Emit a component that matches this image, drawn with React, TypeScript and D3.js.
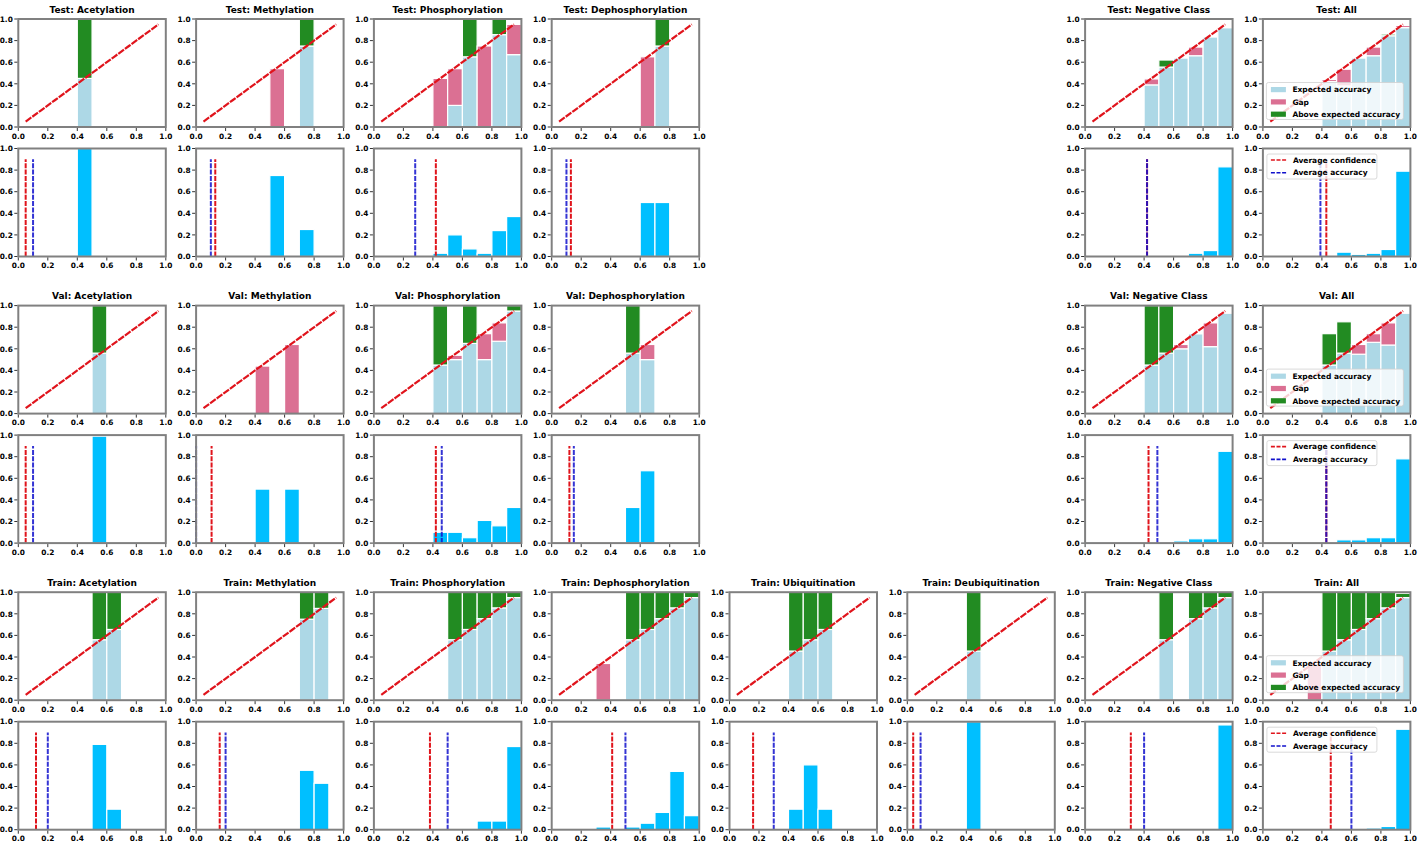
import React from "react";
import * as d3 from "d3";

const N = null;

// ---- categories ----
const groups = ["Test", "Val", "Train"];
const columns = ["Acetylation", "Methylation", "Phosphorylation", "Dephosphorylation", "Ubiquitination", "Deubiquitination", "Negative Class", " All"];
const ticks = [0, 0.2, 0.4, 0.6, 0.8, 1.0];
const legendReliability = ["Expected accuracy", "Gap", "Above expected accuracy"];
const legendHistogram = ["Average confidence", "Average accuracy"];

// ---- Test ----
const testAcetylationConf = [N, N, N, N, 0.45, N, N, N, N, N];
const testAcetylationAcc = [N, N, N, N, 1.0, N, N, N, N, N];
const testAcetylationHist = [0, 0, 0, 0, 1.0, 0, 0, 0, 0, 0];
const testAcetylationAvg = [0.05, 0.1];

const testMethylationConf = [N, N, N, N, N, 0.54, N, 0.75, N, N];
const testMethylationAcc = [N, N, N, N, N, 0.0, N, 1.0, N, N];
const testMethylationHist = [0, 0, 0, 0, 0, 0.75, 0, 0.25, 0, 0];
const testMethylationAvg = [0.13, 0.1];

const testPhosphorylationConf = [N, N, N, N, 0.45, 0.54, 0.65, 0.75, 0.855, 0.95];
const testPhosphorylationAcc = [N, N, N, N, 0.0, 0.2, 1.0, 0.0, 1.0, 0.67];
const testPhosphorylationHist = [0, 0, 0, 0, 0.03, 0.2, 0.07, 0.03, 0.24, 0.37];
const testPhosphorylationAvg = [0.42, 0.28];

const testDephosphorylationConf = [N, N, N, N, N, N, 0.65, 0.75, N, N];
const testDephosphorylationAcc = [N, N, N, N, N, N, 0.0, 1.0, N, N];
const testDephosphorylationHist = [0, 0, 0, 0, 0, 0, 0.5, 0.5, 0, 0];
const testDephosphorylationAvg = [0.13, 0.1];

const testNegativeConf = [N, N, N, N, 0.445, 0.555, 0.645, 0.74, 0.84, 0.93];
const testNegativeAcc = [N, N, N, N, 0.39, 0.62, 0.64, 0.66, 0.835, 0.92];
const testNegativeHist = [0, 0, 0, 0, 0, 0, 0, 0.03, 0.055, 0.83];
const testNegativeAvg = [0.42, 0.42];

const testAllConf = [N, N, N, N, 0.44, 0.535, 0.645, 0.74, 0.845, 0.94];
const testAllAcc = [N, N, N, N, 0.42, 0.38, 0.64, 0.66, 0.86, 0.92];
const testAllHist = [0, 0, 0, 0, 0, 0.04, 0.02, 0.03, 0.065, 0.79];
const testAllAvg = [0.43, 0.39];

// ---- Val ----
const valAcetylationConf = [N, N, N, N, N, 0.56, N, N, N, N];
const valAcetylationAcc = [N, N, N, N, N, 1.0, N, N, N, N];
const valAcetylationHist = [0, 0, 0, 0, 0, 0.99, 0, 0, 0, 0];
const valAcetylationAvg = [0.05, 0.1];

const valMethylationConf = [N, N, N, N, 0.44, N, 0.64, N, N, N];
const valMethylationAcc = [N, N, N, N, 0.0, N, 0.0, N, N, N];
const valMethylationHist = [0, 0, 0, 0, 0.5, 0, 0.5, 0, 0, 0];
const valMethylationAvg = [0.105, 0.0];

const valPhosphorylationConf = [N, N, N, N, 0.45, 0.54, 0.65, 0.74, 0.84, 0.95];
const valPhosphorylationAcc = [N, N, N, N, 1.0, 0.5, 1.0, 0.5, 0.67, 1.0];
const valPhosphorylationHist = [0, 0, 0, 0, 0.1, 0.1, 0.05, 0.21, 0.16, 0.33];
const valPhosphorylationAvg = [0.42, 0.46];

const valDephosphorylationConf = [N, N, N, N, N, 0.56, 0.64, N, N, N];
const valDephosphorylationAcc = [N, N, N, N, N, 1.0, 0.5, N, N, N];
const valDephosphorylationHist = [0, 0, 0, 0, 0, 0.33, 0.67, 0, 0, 0];
const valDephosphorylationAvg = [0.12, 0.15];

const valNegativeConf = [N, N, N, N, 0.45, 0.56, 0.64, 0.745, 0.84, 0.935];
const valNegativeAcc = [N, N, N, N, 1.0, 1.0, 0.6, 0.74, 0.62, 0.93];
const valNegativeHist = [0, 0, 0, 0, 0, 0.01, 0.02, 0.04, 0.04, 0.85];
const valNegativeAvg = [0.43, 0.49];

const valAllConf = [N, N, N, N, 0.45, 0.56, 0.64, 0.74, 0.84, 0.935];
const valAllAcc = [N, N, N, N, 0.74, 0.85, 0.55, 0.66, 0.635, 0.93];
const valAllHist = [0, 0, 0, 0, 0.01, 0.03, 0.03, 0.05, 0.05, 0.78];
const valAllAvg = [0.43, 0.43];

// ---- Train ----
const trainAcetylationConf = [N, N, N, N, N, 0.56, 0.655, N, N, N];
const trainAcetylationAcc = [N, N, N, N, N, 1.0, 1.0, N, N, N];
const trainAcetylationHist = [0, 0, 0, 0, 0, 0.79, 0.19, 0, 0, 0];
const trainAcetylationAvg = [0.12, 0.2];

const trainMethylationConf = [N, N, N, N, N, N, N, 0.75, 0.85, N];
const trainMethylationAcc = [N, N, N, N, N, N, N, 1.0, 1.0, N];
const trainMethylationHist = [0, 0, 0, 0, 0, 0, 0, 0.55, 0.43, 0];
const trainMethylationAvg = [0.16, 0.2];

const trainPhosphorylationConf = [N, N, N, N, N, 0.56, 0.655, 0.755, 0.855, 0.95];
const trainPhosphorylationAcc = [N, N, N, N, N, 1.0, 1.0, 1.0, 1.0, 1.0];
const trainPhosphorylationHist = [0, 0, 0, 0, 0, 0, 0.01, 0.08, 0.08, 0.77];
const trainPhosphorylationAvg = [0.38, 0.5];

const trainDephosphorylationConf = [N, N, N, 0.34, N, 0.56, 0.655, 0.755, 0.855, 0.95];
const trainDephosphorylationAcc = [N, N, N, 0.0, N, 1.0, 1.0, 1.0, 1.0, 1.0];
const trainDephosphorylationHist = [0, 0, 0, 0.025, 0, 0.025, 0.06, 0.16, 0.54, 0.13];
const trainDephosphorylationAvg = [0.41, 0.5];

const trainUbiquitinationConf = [N, N, N, N, 0.455, 0.56, 0.655, N, N, N];
const trainUbiquitinationAcc = [N, N, N, N, 1.0, 1.0, 1.0, N, N, N];
const trainUbiquitinationHist = [0, 0, 0, 0, 0.19, 0.6, 0.19, 0, 0, 0];
const trainUbiquitinationAvg = [0.16, 0.3];

const trainDeubiquitinationConf = [N, N, N, N, 0.455, N, N, N, N, N];
const trainDeubiquitinationAcc = [N, N, N, N, 1.0, N, N, N, N, N];
const trainDeubiquitinationHist = [0, 0, 0, 0, 1.0, 0, 0, 0, 0, 0];
const trainDeubiquitinationAvg = [0.04, 0.09];

const trainNegativeConf = [N, N, N, N, N, 0.56, N, 0.755, 0.855, 0.95];
const trainNegativeAcc = [N, N, N, N, N, 1.0, N, 1.0, 1.0, 1.0];
const trainNegativeHist = [0, 0, 0, 0, 0, 0, 0, 0, 0, 0.97];
const trainNegativeAvg = [0.31, 0.4];

const trainAllConf = [N, N, N, 0.34, 0.455, 0.56, 0.655, 0.755, 0.855, 0.95];
const trainAllAcc = [N, N, N, 0.0, 1.0, 1.0, 1.0, 1.0, 1.0, 0.99];
const trainAllHist = [0, 0, 0, 0, 0, 0, 0, 0.015, 0.03, 0.93];
const trainAllAvg = [0.46, 0.6];

type PanelData = { conf: (number | null)[]; acc: (number | null)[]; hist: number[]; avg: number[] } | null;
const P = (conf: any, acc: any, hist: any, avg: any): PanelData => ({ conf, acc, hist, avg });

const panels: PanelData[][] = [
  [
    P(testAcetylationConf, testAcetylationAcc, testAcetylationHist, testAcetylationAvg),
    P(testMethylationConf, testMethylationAcc, testMethylationHist, testMethylationAvg),
    P(testPhosphorylationConf, testPhosphorylationAcc, testPhosphorylationHist, testPhosphorylationAvg),
    P(testDephosphorylationConf, testDephosphorylationAcc, testDephosphorylationHist, testDephosphorylationAvg),
    null,
    null,
    P(testNegativeConf, testNegativeAcc, testNegativeHist, testNegativeAvg),
    P(testAllConf, testAllAcc, testAllHist, testAllAvg),
  ],
  [
    P(valAcetylationConf, valAcetylationAcc, valAcetylationHist, valAcetylationAvg),
    P(valMethylationConf, valMethylationAcc, valMethylationHist, valMethylationAvg),
    P(valPhosphorylationConf, valPhosphorylationAcc, valPhosphorylationHist, valPhosphorylationAvg),
    P(valDephosphorylationConf, valDephosphorylationAcc, valDephosphorylationHist, valDephosphorylationAvg),
    null,
    null,
    P(valNegativeConf, valNegativeAcc, valNegativeHist, valNegativeAvg),
    P(valAllConf, valAllAcc, valAllHist, valAllAvg),
  ],
  [
    P(trainAcetylationConf, trainAcetylationAcc, trainAcetylationHist, trainAcetylationAvg),
    P(trainMethylationConf, trainMethylationAcc, trainMethylationHist, trainMethylationAvg),
    P(trainPhosphorylationConf, trainPhosphorylationAcc, trainPhosphorylationHist, trainPhosphorylationAvg),
    P(trainDephosphorylationConf, trainDephosphorylationAcc, trainDephosphorylationHist, trainDephosphorylationAvg),
    P(trainUbiquitinationConf, trainUbiquitinationAcc, trainUbiquitinationHist, trainUbiquitinationAvg),
    P(trainDeubiquitinationConf, trainDeubiquitinationAcc, trainDeubiquitinationHist, trainDeubiquitinationAvg),
    P(trainNegativeConf, trainNegativeAcc, trainNegativeHist, trainNegativeAvg),
    P(trainAllConf, trainAllAcc, trainAllHist, trainAllAvg),
  ],
];

// ---- style / layout ----
const W = 1425;
const H = 844;
const FONT = "DejaVu Sans";
const C_LIGHT = "#add8e6";
const C_GAP = "#db7093";
const C_ABOVE = "#228b22";
const C_HIST = "#00bfff";
const C_RED = "#e0141c";
const C_BLUE = "#1010cc";
const SPINE = "#808080";

const colLeft0 = 18.3;
const colStep = 177.8;
const axW = 147.5;
const axH = 108;
const rowTop0 = 19;
const groupStep = 286.6;
const subStep = 129.5;

const binEdges = d3.range(10).map((i) => i / 10);
const binCenters = d3.range(10).map((i) => i / 10 + 0.05);

function Axes({ x0, y0, title, children }: any) {
  const x = d3.scaleLinear().domain([0, 1]).range([x0, x0 + axW]);
  const y = d3.scaleLinear().domain([0, 1]).range([y0 + axH, y0]);
  return (
    <g>
      {children(x, y)}
      <rect x={x0} y={y0} width={axW} height={axH} fill="none" stroke={SPINE} strokeWidth={2} />
      {ticks.map((t) => (
        <g key={"x" + t}>
          <line x1={x(t)} x2={x(t)} y1={y0 + axH + 1} y2={y0 + axH + 4} stroke="#000" strokeWidth={0.8} />
          <text x={x(t)} y={y0 + axH + 11.5} fontSize={7.4} fontWeight="bold" textAnchor="middle" fontFamily={FONT}>
            {t.toFixed(1)}
          </text>
        </g>
      ))}
      {ticks.map((t) => (
        <g key={"y" + t}>
          <line x1={x0 - 4} x2={x0 - 1} y1={y(t)} y2={y(t)} stroke="#000" strokeWidth={0.8} />
          <text x={x0 - 5.5} y={y(t) + 2.7} fontSize={7.4} fontWeight="bold" textAnchor="end" fontFamily={FONT}>
            {t.toFixed(1)}
          </text>
        </g>
      ))}
      {title ? (
        <text x={x0 + axW / 2} y={y0 - 6.5} fontSize={9} fontWeight="bold" textAnchor="middle" fontFamily={FONT}>
          {title}
        </text>
      ) : null}
    </g>
  );
}

function Reliability({ x0, y0, title, d, legend }: any) {
  return (
    <Axes x0={x0} y0={y0} title={title}>
      {(x: any, y: any) => {
        const bw = x(0.1) - x(0);
        const line = d3
          .line<number>()
          .x((v) => x(v))
          .y((v) => y(v));
        const items: any[] = [];
        d.conf.forEach((c: number | null, i: number) => {
          const a = d.acc[i];
          if (c == null || a == null) return;
          const lo = Math.min(a, c);
          const bx = x(binEdges[i]);
          if (lo > 0)
            items.push(<rect key={"l" + i} x={bx} y={y(lo)} width={bw} height={y(0) - y(lo)} fill={C_LIGHT} stroke="#fff" strokeWidth={1.2} />);
          if (c > a)
            items.push(<rect key={"g" + i} x={bx} y={y(c)} width={bw} height={y(a) - y(c)} fill={C_GAP} stroke="#fff" strokeWidth={1.2} />);
          if (a > c)
            items.push(<rect key={"a" + i} x={bx} y={y(a)} width={bw} height={y(c) - y(a)} fill={C_ABOVE} stroke="#fff" strokeWidth={1.2} />);
        });
        const lw = 137;
        const lh = 37;
        const lx = x0 + axW - 7 - lw;
        const ly = y0 + axH - 7.5 - lh;
        const colors = [C_LIGHT, C_GAP, C_ABOVE];
        return (
          <g>
            {items}
            <path d={line(binCenters) as string} fill="none" stroke={C_RED} strokeWidth={2.2} strokeDasharray="7,1.2" />
            {legend ? (
              <g>
                <rect x={lx} y={ly} width={lw} height={lh} rx={2} fill="#fff" fillOpacity={0.8} stroke="#d0d0d0" strokeWidth={0.8} />
                {legendReliability.map((t, k) => (
                  <g key={t}>
                    <rect x={lx + 4.5} y={ly + 4.5 + k * 12.3} width={15} height={5.2} fill={colors[k]} />
                    <text x={lx + 26} y={ly + 9.9 + k * 12.3} fontSize={7.5} fontWeight="bold" fontFamily={FONT}>
                      {t}
                    </text>
                  </g>
                ))}
              </g>
            ) : null}
          </g>
        );
      }}
    </Axes>
  );
}

function Histogram({ x0, y0, d, legend }: any) {
  return (
    <Axes x0={x0} y0={y0} title={null}>
      {(x: any, y: any) => {
        const bw = x(0.1) - x(0);
        const lx = x0 + 4;
        const ly = y0 + 5.5;
        return (
          <g>
            {d.hist.map((h: number, i: number) =>
              h > 0 ? (
                <rect key={i} x={x(binEdges[i])} y={y(h)} width={bw} height={y(0) - y(h)} fill={C_HIST} stroke="#fff" strokeWidth={1.2} />
              ) : null
            )}
            <line x1={x(d.avg[0])} x2={x(d.avg[0])} y1={y(0)} y2={y(0.9)} stroke={C_RED} strokeWidth={2} strokeDasharray="5,1.3" />
            <line x1={x(d.avg[1])} x2={x(d.avg[1])} y1={y(0)} y2={y(0.9)} stroke={C_BLUE} strokeOpacity={0.85} strokeWidth={2} strokeDasharray="5,1.3" />
            {legend ? (
              <g>
                <rect x={lx} y={ly} width={110} height={25} rx={2} fill="#fff" fillOpacity={0.8} stroke="#d0d0d0" strokeWidth={0.8} />
                {legendHistogram.map((t, k) => (
                  <g key={t}>
                    <line x1={lx + 4} x2={lx + 19.5} y1={ly + 6 + k * 12.8} y2={ly + 6 + k * 12.8} stroke={k === 0 ? C_RED : C_BLUE} strokeWidth={1.6} strokeDasharray="4,1.6" />
                    <text x={lx + 26} y={ly + 8.6 + k * 12.8} fontSize={7.5} fontWeight="bold" fontFamily={FONT}>
                      {t}
                    </text>
                  </g>
                ))}
              </g>
            ) : null}
          </g>
        );
      }}
    </Axes>
  );
}

export default function App() {
  return (
    <svg width={W} height={H} style={{ position: "absolute", left: 0, top: 0, background: "#fff" }} fontFamily={FONT}>
      <rect width={W} height={H} fill="#fff" />
      {groups.map((g, gi) =>
        columns.map((c, ci) => {
          const d = panels[gi][ci];
          if (!d) return null;
          const x0 = colLeft0 + ci * colStep;
          const yTop = rowTop0 + gi * groupStep;
          const isAll = ci === columns.length - 1;
          return (
            <g key={g + c}>
              <Reliability x0={x0} y0={yTop} title={`${g}: ${c}`} d={d} legend={isAll} />
              <Histogram x0={x0} y0={yTop + subStep} d={d} legend={isAll} />
            </g>
          );
        })
      )}
    </svg>
  );
}
